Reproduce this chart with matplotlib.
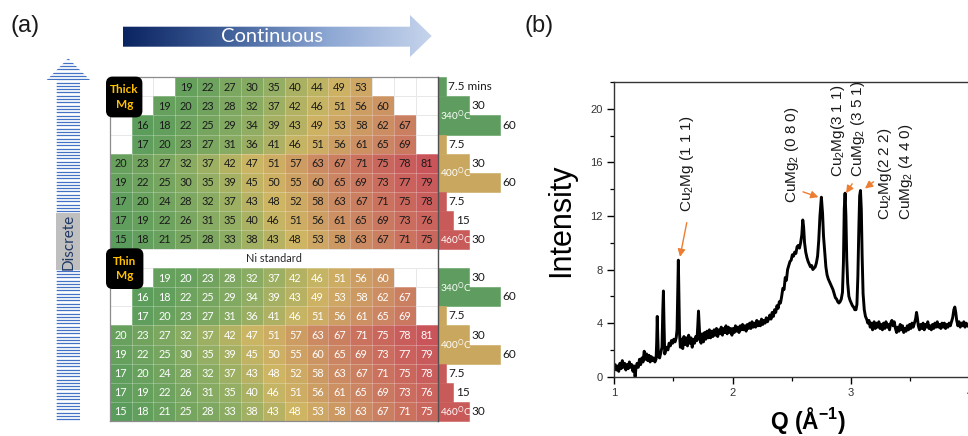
import numpy as np
import matplotlib
matplotlib.use('Agg')
import matplotlib.pyplot as plt
from matplotlib.colors import LinearSegmentedColormap, Normalize
from matplotlib.patches import Polygon, FancyBboxPatch, Rectangle

plt.rcParams['mathtext.default'] = 'regular'

# ---------------- data: panel (a) ----------------
thick_start = [3, 2, 1, 1, 0, 0, 0, 0, 0]
thick_vals = [
    [19, 22, 27, 30, 35, 40, 44, 49, 53],
    [19, 20, 23, 28, 32, 37, 42, 46, 51, 56, 60],
    [16, 18, 22, 25, 29, 34, 39, 43, 49, 53, 58, 62, 67],
    [17, 20, 23, 27, 31, 36, 41, 46, 51, 56, 61, 65, 69],
    [20, 23, 27, 32, 37, 42, 47, 51, 57, 63, 67, 71, 75, 78, 81],
    [19, 22, 25, 30, 35, 39, 45, 50, 55, 60, 65, 69, 73, 77, 79],
    [17, 20, 24, 28, 32, 37, 43, 48, 52, 58, 63, 67, 71, 75, 78],
    [17, 19, 22, 26, 31, 35, 40, 46, 51, 56, 61, 65, 69, 73, 76],
    [15, 18, 21, 25, 28, 33, 38, 43, 48, 53, 58, 63, 67, 71, 75],
]
thin_start = [2, 1, 1, 0, 0, 0, 0, 0]
thin_vals = [
    [19, 20, 23, 28, 32, 37, 42, 46, 51, 56, 60],
    [16, 18, 22, 25, 29, 34, 39, 43, 49, 53, 58, 62, 67],
    [17, 20, 23, 27, 31, 36, 41, 46, 51, 56, 61, 65, 69],
    [20, 23, 27, 32, 37, 42, 47, 51, 57, 63, 67, 71, 75, 78, 81],
    [19, 22, 25, 30, 35, 39, 45, 50, 55, 60, 65, 69, 73, 77, 79],
    [17, 20, 24, 28, 32, 37, 43, 48, 52, 58, 63, 67, 71, 75, 78],
    [17, 19, 22, 26, 31, 35, 40, 46, 51, 56, 61, 65, 69, 73, 76],
    [15, 18, 21, 25, 28, 33, 38, 43, 48, 53, 58, 63, 67, 71, 75],
]
thick_temps = [340, 340, 340, 400, 400, 400, 460, 460, 460]
thick_times = [7.5, 30, 60, 7.5, 30, 60, 7.5, 15, 30]
thick_time_labels = ['7.5 mins', '30', '60', '7.5', '30', '60', '7.5', '15', '30']
thin_temps = [340, 340, 400, 400, 400, 460, 460, 460]
thin_times = [30, 60, 7.5, 30, 60, 7.5, 15, 30]
thin_time_labels = ['30', '60', '7.5', '30', '60', '7.5', '15', '30']
temp_names = {340: '340', 400: '400', 460: '460'}
temp_colors = {340: '#5E9D5F', 400: '#C9A75E', 460: '#C95A5A'}
# row position (in table rows) of the temperature labels
thick_temp_label_rows = {340: 2.0, 400: 5.0, 460: 8.5}
thin_temp_label_rows = {340: 11.0, 400: 14.0, 460: 17.5}

# ---------------- data: panel (b) ----------------
q = [1.000, 1.010, 1.020, 1.030, 1.040, 1.050, 1.060, 1.070, 1.080, 1.090,
     1.100, 1.110, 1.120, 1.130, 1.140, 1.150, 1.160, 1.170, 1.178, 1.185,
     1.195, 1.205, 1.215, 1.225, 1.235, 1.245, 1.255, 1.265, 1.275, 1.285,
     1.295, 1.305, 1.315, 1.325, 1.335, 1.345, 1.355,
     1.360, 1.365, 1.370, 1.375, 1.385, 1.395, 1.405, 1.412, 1.417, 1.422,
     1.428, 1.435, 1.445, 1.455, 1.465, 1.475, 1.485, 1.495, 1.505, 1.515,
     1.525, 1.532, 1.538, 1.543, 1.548, 1.553, 1.560, 1.570, 1.580, 1.590,
     1.600, 1.610, 1.620, 1.630, 1.640, 1.650, 1.660, 1.670, 1.680, 1.690,
     1.700, 1.707, 1.713, 1.719, 1.725, 1.735,
     1.745, 1.755, 1.765, 1.775, 1.785, 1.795, 1.805, 1.815, 1.825, 1.835,
     1.845, 1.855, 1.865, 1.875, 1.885, 1.895, 1.905, 1.915, 1.925, 1.935,
     1.945, 1.955, 1.965, 1.975, 1.985, 1.995, 2.005, 2.015, 2.025, 2.035,
     2.045, 2.055, 2.065, 2.075, 2.085, 2.095, 2.105, 2.115, 2.125, 2.135,
     2.145, 2.155, 2.165, 2.175, 2.185, 2.195, 2.205, 2.215, 2.225, 2.235,
     2.245, 2.255, 2.265, 2.275, 2.285, 2.295,
     2.305, 2.315, 2.325, 2.335, 2.345, 2.355, 2.365, 2.375, 2.385, 2.395,
     2.405, 2.415, 2.425, 2.435, 2.445, 2.455, 2.465, 2.475, 2.485, 2.495,
     2.505, 2.515, 2.525, 2.535, 2.545, 2.555, 2.565, 2.575, 2.585, 2.593,
     2.600, 2.608, 2.618, 2.628, 2.638, 2.648, 2.658, 2.668, 2.678, 2.688,
     2.698, 2.708, 2.718, 2.728, 2.738, 2.750, 2.760, 2.768, 2.778, 2.788,
     2.798, 2.808, 2.818, 2.828, 2.838, 2.848, 2.858, 2.868, 2.878, 2.888,
     2.898, 2.908, 2.918, 2.928, 2.936, 2.943, 2.950, 2.957, 2.964, 2.972,
     2.982, 2.992, 3.002, 3.012, 3.022, 3.032, 3.042, 3.050, 3.058, 3.066,
     3.073, 3.080, 3.087, 3.094, 3.102, 3.112, 3.122, 3.132, 3.142, 3.152,
     3.162, 3.172, 3.182,
     3.195, 3.205, 3.215, 3.225, 3.235, 3.245, 3.255, 3.265, 3.275, 3.285,
     3.295, 3.305, 3.315, 3.325, 3.335, 3.345, 3.355, 3.365, 3.375, 3.385,
     3.395, 3.405, 3.415, 3.425, 3.435, 3.445, 3.455, 3.465, 3.475, 3.485,
     3.495, 3.505, 3.515, 3.525, 3.535, 3.545, 3.553, 3.560, 3.568, 3.578,
     3.588, 3.598, 3.608, 3.618, 3.628, 3.638, 3.648, 3.658, 3.668, 3.678,
     3.688, 3.698, 3.708, 3.718, 3.728, 3.738, 3.748, 3.758, 3.768, 3.778,
     3.788, 3.798, 3.808, 3.818, 3.828, 3.838, 3.848, 3.858, 3.868, 3.876,
     3.884, 3.892, 3.902, 3.912, 3.922, 3.932, 3.942, 3.952, 3.962, 3.972,
     3.985]
intensity = [0.6, 0.9, 0.5, 0.8, 0.4, 1.0, 0.6, 1.2, 0.7, 1.0,
             0.5, 0.9, 0.6, 1.1, 0.7, 0.9, 0.4, 0.8, 0.0, 0.6,
             1.0, 0.7, 1.3, 0.9, 1.4, 1.1, 1.9, 1.3, 1.7, 1.2,
             1.6, 1.1, 1.5, 1.2, 1.4, 1.1, 1.3,
             2.5, 4.5, 2.8, 1.5, 1.4, 1.8, 2.2, 5.0, 6.4, 4.0,
             1.7, 1.9, 2.2, 2.0, 2.5, 2.3, 2.7, 2.5, 2.8, 2.6,
             2.9, 3.5, 6.5, 8.7, 6.0, 3.2, 2.2, 2.8, 2.1, 3.0,
             2.4, 2.9, 2.3, 3.1, 2.5, 2.9, 2.2, 2.8, 2.5, 3.0,
             2.7, 3.8, 4.9, 3.9, 2.8, 2.5,
             3.2, 2.6, 3.3, 2.8, 3.4, 2.9, 3.5, 2.9, 3.4, 3.0,
             3.5, 3.1, 3.6, 3.0, 3.5, 3.2, 3.7, 3.1, 3.6, 3.3,
             3.8, 3.2, 3.7, 3.3, 3.6, 3.1, 3.6, 3.3, 3.8, 3.4,
             3.7, 3.3, 3.8, 3.5, 3.9, 3.5, 3.8, 3.4, 3.9, 3.6,
             4.0, 3.6, 4.1, 3.7, 4.0, 3.7, 4.2, 3.8, 4.1, 3.8,
             4.3, 3.9, 4.2, 4.0, 4.4, 4.1,
             4.3, 4.6, 4.3, 4.8, 4.5, 5.0, 4.8, 5.3, 5.1, 5.6,
             5.5, 6.0, 6.6, 6.5, 7.4, 7.2, 8.0, 8.3, 8.6, 8.7,
             9.1, 9.0, 9.3, 9.2, 9.7, 9.8, 9.6, 10.0, 10.6, 11.7,
             11.2, 10.0, 9.3, 8.9, 8.6, 8.4, 8.2, 8.3, 8.0, 8.1,
             8.2, 8.5, 9.0, 10.2, 12.0, 13.4, 12.2, 10.5, 9.3, 8.2,
             7.6, 7.3, 7.1, 6.9, 6.7, 6.5, 6.2, 5.9, 5.8, 5.6,
             5.5, 5.6, 5.8, 6.3, 8.5, 12.5, 13.7, 12.0, 8.8, 7.0,
             6.0, 5.7, 5.5, 5.3, 5.2, 5.0, 5.0, 5.4, 7.5, 11.0,
             13.5, 13.9, 12.5, 9.0, 6.2, 5.0, 4.5, 4.3, 4.0, 4.2,
             3.7, 4.0, 3.5,
             4.1, 3.6, 4.0, 3.7, 4.1, 3.6, 3.9, 3.5, 4.0, 3.6,
             4.1, 3.7, 3.9, 3.5, 4.0, 4.2, 3.8, 4.1, 3.6, 3.3,
             3.7, 3.4, 3.9, 3.5, 3.8, 3.3, 3.6, 3.4, 3.8, 3.5,
             3.9, 3.6, 4.0, 3.7, 4.0, 4.3, 4.8, 4.4, 3.8, 3.5,
             3.9, 3.6, 4.0, 3.5, 3.9, 3.7, 4.1, 3.6, 3.8, 3.5,
             3.9, 3.6, 4.0, 3.7, 4.1, 3.7, 3.9, 3.6, 4.0, 3.7,
             4.0, 3.6, 3.9, 3.7, 4.0, 3.8, 4.1, 4.4, 5.0, 5.2,
             4.8, 4.2, 3.8, 4.1, 3.7, 4.0, 3.8, 4.1, 3.7, 4.0,
             3.8]
# (label, x, y_bottom)
peak_texts = [
    (r'Cu$_2$Mg (1 1 1)', 1.612, 12.3),
    (r'CuMg$_2$ (0 8 0)', 2.502, 13.0),
    (r'Cu$_2$Mg(3 1 1)', 2.888, 14.9),
    (r'CuMg$_2$ (3 5 1)', 3.062, 14.9),
    (r'Cu$_2$Mg(2 2 2)', 3.287, 11.7),
    (r'CuMg$_2$ (4 4 0)', 3.464, 11.7),
]
# (tail_x, tail_y, head_x, head_y)
peak_arrows = [
    (1.614, 11.5, 1.557, 8.95),
    (2.595, 13.8, 2.725, 13.4),
    (3.010, 14.4, 2.958, 13.7),
    (3.190, 14.55, 3.118, 14.05),
]

# ---------------- figure ----------------
W, H = 968, 436
fig = plt.figure(figsize=(W / 100, H / 100), dpi=100)


def px_axes(l, t, r, b, **kw):
    return fig.add_axes([l / W, 1 - b / H, (r - l) / W, (b - t) / H], **kw)


TAB_FONT = 'Lato'

# ---- table axes ----
cw, rh = 21.87, 19.09
x0px, y0px = 109.7, 77.3
xl, xr = -0.3, 18.6
yt, yb = -0.2, 18.3
tab = px_axes(x0px + xl * cw, y0px + yt * rh, x0px + xr * cw, y0px + yb * rh)
tab.set_xlim(xl, xr)
tab.set_ylim(yb, yt)
tab.set_axis_off()
tab.patch.set_alpha(0)

grid = np.full((18, 15), np.nan)
for i, (s, vals) in enumerate(zip(thick_start, thick_vals)):
    grid[i, s:s + len(vals)] = vals
for i, (s, vals) in enumerate(zip(thin_start, thin_vals)):
    grid[10 + i, s:s + len(vals)] = vals

cmap = LinearSegmentedColormap.from_list(
    'gyr', [(0.0, '#5A9C5C'), (0.28, '#8EAD63'), (0.5, '#CDB563'),
            (0.72, '#CC8C63'), (1.0, '#C9555A')])
norm = Normalize(15, 81)

# light grey cell lines (visible on white cells)
for r in range(19):
    tab.plot([0, 15], [r, r], color='#D9D9D9', lw=0.6, zorder=1)
for c in range(16):
    tab.plot([c, c], [0, 9], color='#D9D9D9', lw=0.6, zorder=1)
    tab.plot([c, c], [10, 18], color='#D9D9D9', lw=0.6, zorder=1)

tab.pcolormesh(np.arange(16), np.arange(19), np.ma.masked_invalid(grid),
               cmap=cmap, norm=norm, zorder=2, shading='flat')
# faint white separators on coloured cells
for r in range(19):
    tab.plot([0, 15], [r, r], color='white', alpha=0.3, lw=0.6, zorder=3)
for c in range(16):
    tab.plot([c, c], [0, 9], color='white', alpha=0.3, lw=0.6, zorder=3)
    tab.plot([c, c], [10, 18], color='white', alpha=0.3, lw=0.6, zorder=3)

for r in range(18):
    for c in range(15):
        v = grid[r, c]
        if not np.isnan(v):
            tab.text(c + 0.5, r + 0.52, f'{int(v)}', ha='center', va='center',
                     fontsize=7.8, family=TAB_FONT,
                     color='#1A1A1A' if r < 9 else 'white', zorder=4)

tab.text(7.5, 9.5, 'Ni standard', ha='center', va='center', fontsize=7.8,
         family=TAB_FONT, color='#262626', zorder=4)

# borders
tab.plot([0, 0], [0, 18], color='#8C8C8C', lw=0.9, zorder=5)
tab.plot([0, 15], [18, 18], color='#8C8C8C', lw=0.9, zorder=5)
tab.plot([0, 15], [0, 0], color='#8C8C8C', lw=0.9, zorder=5)
tab.plot([15, 15], [0, 18], color='#505050', lw=1.0, zorder=6)

# time bars
k = 1.04 / cw
rows_all = list(range(9)) + list(range(10, 18))
temps_all = thick_temps + thin_temps
times_all = thick_times + thin_times
labels_all = thick_time_labels + thin_time_labels
tab.barh([r + 0.5 for r in rows_all], [t * k for t in times_all], left=15,
         height=1.0, color=[temp_colors[t] for t in temps_all],
         edgecolor=[temp_colors[t] for t in temps_all], linewidth=0.4, zorder=2)
for r, t, lab in zip(rows_all, times_all, labels_all):
    tab.text(15 + t * k + 0.12, r + 0.5, lab, ha='left', va='center',
             fontsize=8.5, family=TAB_FONT, color='#1A1A1A', zorder=4)
for d in (thick_temp_label_rows, thin_temp_label_rows):
    for temp, rr in d.items():
        tab.text(15.1, rr, temp_names[temp] + r'$^{O}$C', ha='left', va='center',
                 fontsize=7.2, family=TAB_FONT, color='white', zorder=4)

# ---- panel (b) ----
ax = px_axes(614, 82, 614 + 3.27 * 118.5, 376.7)
ax.plot(q, intensity, color='black', lw=2.1, solid_joinstyle='round')
ax.set_xlim(1, 4.27)
ax.set_ylim(0, 22)
ax.set_xticks([1, 2, 3, 4])
ax.set_xticks([1.5, 2.5, 3.5], minor=True)
ax.set_yticks([0, 4, 8, 12, 16, 20])
ax.set_yticks([2, 6, 10, 14, 18, 22], minor=True)
for lab in ax.get_xticklabels() + ax.get_yticklabels():
    lab.set_family('Liberation Sans')
ax.tick_params(which='major', direction='out', length=5, width=1.0,
               labelsize=8, labelcolor='#333333', pad=3)
ax.tick_params(which='minor', direction='out', length=3, width=0.9)
for sp in ax.spines.values():
    sp.set_linewidth(1.0)
    sp.set_color('#333333')
ax.text(-0.137, 0.53, 'Intensity', transform=ax.transAxes, rotation=90,
        ha='center', va='center', fontsize=22, family='Liberation Sans')
ax.text(0.5006, -0.148, r'Q (Å$^{-1}$)', transform=ax.transAxes,
        ha='center', va='center', fontsize=16.5, fontweight='bold',
        family='Liberation Sans')
for lab, x, y in peak_texts:
    ax.text(x, y, lab, rotation=90, ha='center', va='bottom', fontsize=11,
            family='Liberation Sans', color='#1A1A1A')
for tx, ty, hx, hy in peak_arrows:
    ax.annotate('', xy=(hx, hy), xytext=(tx, ty),
                arrowprops=dict(arrowstyle='-|>', color='#ED7D31', lw=1.0,
                                mutation_scale=11, shrinkA=0, shrinkB=0))

# ---- overlay (pixel coordinates) ----
ov = fig.add_axes([0, 0, 1, 1])
ov.set_xlim(0, W)
ov.set_ylim(H, 0)
ov.set_axis_off()
ov.patch.set_alpha(0)

# Continuous arrow (gradient)
grad_cmap = LinearSegmentedColormap.from_list(
    'blu', ['#0B2462', '#3E5E98', '#8EA8D4', '#C6D4EC'])
im = ov.imshow(np.linspace(0, 1, 256)[None, :], extent=[123, 432, 57, 15],
               aspect='auto', cmap=grad_cmap, zorder=2)
carrow = Polygon([(123, 26.7), (410, 26.7), (410, 15), (431.7, 36),
                  (410, 57), (410, 46.7), (123, 46.7)], closed=True,
                 transform=ov.transData, fc='none', ec='none')
ov.add_patch(carrow)
im.set_clip_path(carrow)
ov.set_xlim(0, W)
ov.set_ylim(H, 0)
ov.text(271.7, 36.5, 'Continuous', ha='center', va='center', fontsize=14.5,
        family=TAB_FONT, color='white', zorder=3)

# Discrete arrow (striped)
darrow = Polygon([(56.7, 421.7), (56.7, 80), (46.7, 80), (68.3, 58.3),
                  (90, 80), (80, 80), (80, 421.7)], closed=True,
                 transform=ov.transData, fc='none', ec='none')
ov.add_patch(darrow)
stripes = ov.hlines(np.arange(59.5, 422, 3.3), 45, 92, color='#4472C4',
                    lw=0.9, zorder=2)
stripes.set_clip_path(darrow)
ov.add_patch(Rectangle((56, 213), 24, 57, fc='#BFBFBF', ec='none', zorder=3))
ov.text(68.3, 241.5, 'Discrete', rotation=90, ha='center', va='center',
        fontsize=11, family=TAB_FONT, color='#1F3864', zorder=4)

# Thick / Thin Mg boxes
for (bx, by, bw, bh, txt) in [(106.7, 77.3, 35, 39.4, 'Thick\nMg'),
                              (106.7, 249.0, 36, 39.3, 'Thin\nMg')]:
    ov.add_patch(FancyBboxPatch((bx, by), bw, bh,
                                boxstyle='round,pad=0,rounding_size=6',
                                fc='black', ec='black', zorder=5))
    ov.text(bx + bw / 2, by + bh / 2, txt, ha='center', va='center',
            fontsize=8.5, fontweight='bold', family=TAB_FONT, color='#FFC000',
            linespacing=1.35, zorder=6)

ov.text(10, 26, '(a)', ha='left', va='center', fontsize=17,
        family='Liberation Sans', color='#1A1A1A')
ov.text(525, 26, '(b)', ha='left', va='center', fontsize=17,
        family='Liberation Sans', color='#1A1A1A')

fig.savefig('out.png', dpi=100)
